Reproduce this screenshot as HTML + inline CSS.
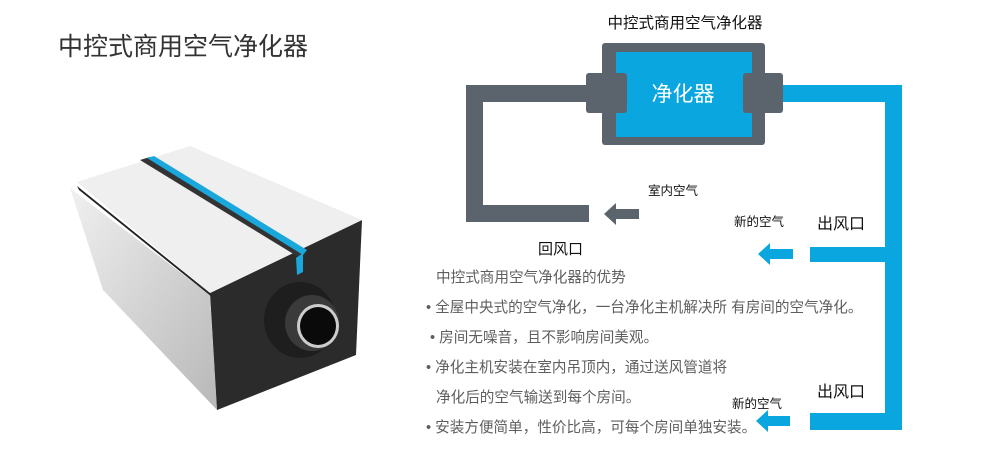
<!DOCTYPE html>
<html><head><meta charset="utf-8"><style>
html,body{margin:0;padding:0;background:#fff;width:1000px;height:467px;overflow:hidden}
svg{display:block}
text{font-family:"Liberation Sans","Noto Sans CJK SC",sans-serif}
</style></head><body>
<svg width="1000" height="467" viewBox="0 0 1000 467" xmlns="http://www.w3.org/2000/svg">
<text x="58" y="55" font-size="25" fill="#333">中控式商用空气净化器</text>
<defs>
<linearGradient id="fr" x1="0" y1="0" x2="1" y2="1"><stop offset="0" stop-color="#f0f0f0"/><stop offset="1" stop-color="#b8b8b8"/></linearGradient>
</defs>
<polygon points="70,188 210,295 217,410 103,290" fill="url(#fr)"/>
<polygon points="210,295 217,410 222,410 215,295" fill="#fff"/>
<polygon points="210,293 362,220 356,355 217,410" fill="#2b2b2b"/>
<polygon points="77,182 190,146 362,220 210,293" fill="#efefef"/>
<polygon points="140,160 150,157 307,252 300,258" fill="#333"/>
<polygon points="147,158 154,156 307,250 303,255" fill="#1aa7dc"/>
<polygon points="296,258 303,253 303,272 297,275" fill="#1aa7dc"/>
<polygon points="77,186 210,293 212,297 79,190" fill="#222"/>
<ellipse cx="300" cy="320" rx="36" ry="38" fill="#1e1e1e"/>
<ellipse cx="312" cy="323" rx="27" ry="28" fill="#3a3a3a"/>
<ellipse cx="318" cy="326" rx="21" ry="22" fill="#ccc"/>
<ellipse cx="318" cy="326" rx="18" ry="19" fill="#0a0a0a"/>
<text x="685" y="28" font-size="15.5" fill="#111" text-anchor="middle">中控式商用空气净化器</text>
<path d="M589,85 H466 V222 H589 V205 H483 V102 H589 Z" fill="#5b636c"/>
<rect x="602" y="43" width="163" height="102" rx="3" fill="#5b636c"/>
<rect x="616" y="52" width="136" height="85" fill="#0aa6e0"/>
<rect x="586" y="73" width="41" height="40" rx="3" fill="#5b636c"/>
<rect x="743" y="73" width="40" height="40" rx="3" fill="#5b636c"/>
<text x="683" y="101" font-size="21" fill="#fff" text-anchor="middle">净化器</text>
<path d="M783,85 H902 V430 H885 V102 H783 Z" fill="#0aa6e0"/>
<rect x="810" y="247" width="76" height="15" fill="#0aa6e0"/>
<rect x="810" y="413" width="76" height="17" fill="#0aa6e0"/>
<polygon points="604,214 616,203 616,209 639,209 639,219 616,219 616,225" fill="#5b636c"/>
<polygon points="758,254 770,243 770,249 793,249 793,259 770,259 770,265" fill="#0aa6e0"/>
<polygon points="756,421 768,410 768,416 790,416 790,426 768,426 768,432" fill="#0aa6e0"/>
<text x="648" y="195" font-size="12.5" fill="#111">室内空气</text>
<text x="538" y="254" font-size="15" fill="#111">回风口</text>
<text x="734" y="226" font-size="12.5" fill="#111">新的空气</text>
<text x="817" y="229" font-size="16" fill="#111">出风口</text>
<text x="817" y="397" font-size="16" fill="#111">出风口</text>
<text x="732" y="408" font-size="12.5" fill="#111">新的空气</text>
<g font-size="14.6" fill="#5e5e5e">
<text x="436" y="282">中控式商用空气净化器的优势</text>
<text x="426" y="312">• 全屋中央式的空气净化，一台净化主机解决所 有房间的空气净化。</text>
<text x="430" y="342">• 房间无噪音，且不影响房间美观。</text>
<text x="426" y="372">• 净化主机安装在室内吊顶内，通过送风管道将</text>
<text x="436" y="402">净化后的空气输送到每个房间。</text>
<text x="426" y="432">• 安装方便简单，性价比高，可每个房间单独安装。</text>
</g>
</svg>
</body></html>
